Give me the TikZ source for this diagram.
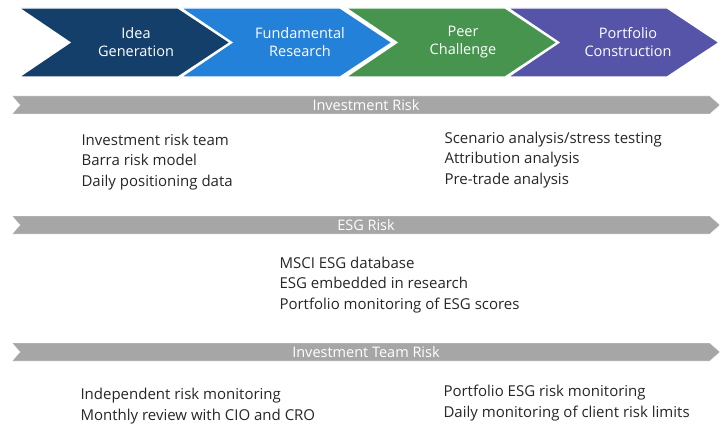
\documentclass[tikz,border=0pt]{standalone}
\usepackage{fontspec}
\setmainfont{Open Sans}
\begin{document}
\begin{tikzpicture}[x=1pt,y=-1pt,
  chev/.style={draw=white,line width=1.2pt},
  bar/.style={fill=black!35,draw=white},
  head/.style={text=white,font=\fontsize{14.5}{18}\selectfont,align=center},
  body/.style={anchor=west,align=left,font=\fontsize{15}{20.5}\selectfont,text=black!85}]
\useasboundingbox (0,0) rectangle (728,433);
\definecolor{c1}{HTML}{153F6B}\definecolor{c2}{HTML}{2481D9}
\definecolor{c3}{HTML}{47944F}\definecolor{c4}{HTML}{5554A8}
\foreach \x/\c in {19/c1,181/c2,346/c3,508/c4}{
  \fill[\c,chev] (\x,8) -- (\x+159,8) -- (\x+211,42.5) -- (\x+159,77) -- (\x,77) -- (\x+51,42.5) -- cycle;}
\node[head] (a) at (136,42) {Idea\\Generation};
\node[head] (b) at (300,42) {Fundamental\\Research};
\node[head] (c) at (463,42) {Peer\\Challenge};
\node[head] (d) at (628,42) {Portfolio\\Construction};
\foreach \y/\t/\n in {96/Investment Risk/r1,216/ESG Risk/r2,343/Investment Team Risk/r3}{
  \fill[bar] (12,\y) -- (710,\y) -- (720,\y+9) -- (710,\y+18) -- (12,\y+18) -- (20,\y+9) -- cycle;
  \node[head] (\n) at (366,\y+9.5) {\t};}
\node[body] (t1) at (78,162) {Investment risk team\\Barra risk model\\Daily positioning data};
\node[body] (t2) at (441,160) {Scenario analysis/stress testing\\Attribution analysis\\Pre-trade analysis};
\node[body] (t3) at (276,285) {MSCI ESG database\\ESG embedded in research\\Portfolio monitoring of ESG scores};
\node[body] (t4) at (77,406) {Independent risk monitoring\\Monthly review with CIO and CRO};
\node[body] (t5) at (440,403) {Portfolio ESG risk monitoring\\Daily monitoring of client risk limits};
\end{tikzpicture}
\end{document}
